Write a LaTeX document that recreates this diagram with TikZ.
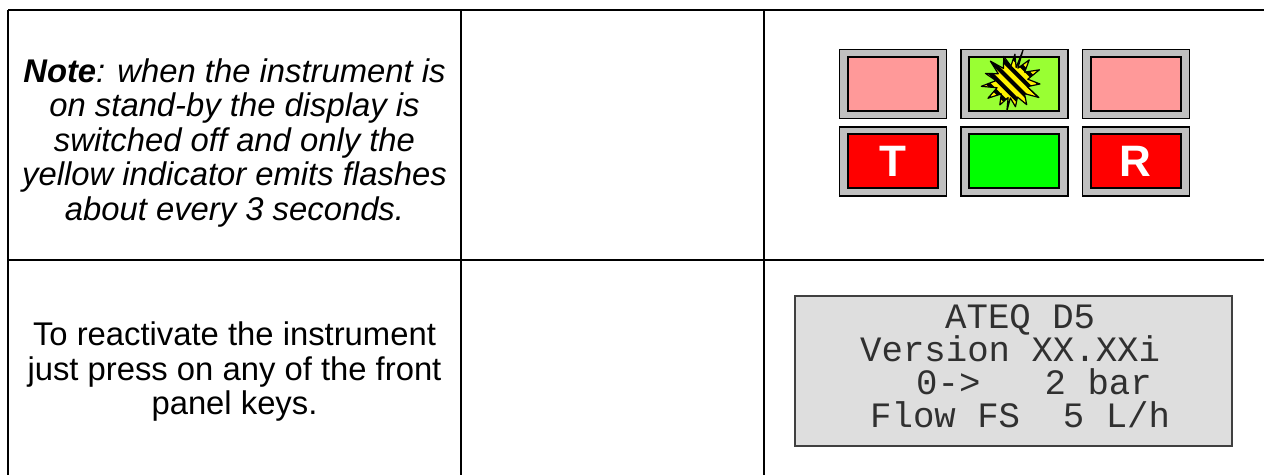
\documentclass[tikz,border=0pt]{standalone}
\usepackage{fontspec}
\setmainfont{Liberation Sans}
\newfontfamily\lcdfont{Liberation Mono}
\usetikzlibrary{positioning}

\definecolor{lampgray}{HTML}{C0C0C0}
\definecolor{pinkoff}{HTML}{FF9999}
\definecolor{limeon}{HTML}{99FF33}
\definecolor{redon}{HTML}{FF0000}
\definecolor{greenon}{HTML}{00FF00}
\definecolor{lcdbg}{HTML}{DEDEDE}
\definecolor{lcdedge}{HTML}{404040}
\definecolor{lcdtext}{HTML}{303030}

\begin{document}
\begin{tikzpicture}[x=1pt, y=-1pt,
  node distance=7pt and 13pt,
  grid/.style={line width=2.2pt},
  lamp/.style={draw, line width=1.4pt, fill=lampgray, minimum width=107pt,
               minimum height=69pt, inner sep=0pt},
  lens/.style={draw, line width=2pt, minimum width=90pt, minimum height=54pt,
               inner sep=0pt, text=white, font=\fontsize{44}{44}\selectfont\bfseries},
  note/.style={align=center, inner sep=0pt, font=\fontsize{32.8}{34.5}\selectfont},
  lcd/.style={draw=lcdedge, line width=2.5pt, fill=lcdbg, minimum width=437pt,
              minimum height=150pt, inner sep=0pt},
  lcdline/.style={anchor=base west, inner sep=0pt, text=lcdtext, text height=24pt,
                  text depth=4pt, font=\lcdfont\fontsize{35.7}{35.7}\selectfont}]
\useasboundingbox (0,0) rectangle (1264,475);

% table rules
\draw[grid] (8,10) -- (1264,10);
\draw[grid] (8,260) -- (1264,260);
\foreach \colx in {8,461,764}
  \draw[grid] (\colx,10) -- (\colx,475);

% explanation texts
\node[note, font=\fontsize{32.8}{34.5}\selectfont\itshape] (standby) at (234.5,143)
  {\textbf{Note}: when the instrument is\\on stand-by the display is\\
   switched off and only the\\yellow indicator emits flashes\\about every 3 seconds.};
\node[note] (wakeup) at (234.5,372)
  {To reactivate the instrument\\just press on any of the front\\panel keys.};

% front panel indicators
\node[lamp] (lampTL) at (893,84) {};
\node[lamp, right=of lampTL] (lampTM) {};
\node[lamp, right=of lampTM] (lampTR) {};
\node[lamp, below=of lampTL] (lampBL) {};
\node[lamp, right=of lampBL] (lampBM) {};
\node[lamp, right=of lampBM] (lampBR) {};
\node[lens, fill=pinkoff] (lensTL) at (lampTL) {};
\node[lens, fill=limeon] (lensTM) at (lampTM) {};
\node[lens, fill=pinkoff] (lensTR) at (lampTR) {};
\node[lens, fill=redon] (lensBL) at (lampBL) {T};
\node[lens, fill=greenon] (lensBM) at (lampBM) {};
\node[lens, fill=redon] (lensBR) at (lampBR) {R};

% flashing yellow indicator
\coordinate (burst) at (1012,82);
\begin{scope}[shift={(burst)}]
  \def\burstpath{(-74:15) -- (-71:34) -- (-67:15) -- (-52:28) -- (-38:16) -- (-24:30)
    -- (-10:16) -- (4:28) -- (17:16) -- (30:31) -- (43:17) -- (57:27) -- (70:16)
    -- (82:25) -- (96:16) -- (100:30) -- (104:16) -- (118:26) -- (132:16) -- (146:29)
    -- (159:16) -- (172:31) -- (185:16) -- (198:28) -- (211:16) -- (224:30)
    -- (238:16) -- (252:27) -- (266:16) -- (276:28) -- cycle}
  \begin{scope}
    \clip \burstpath;
    \fill[yellow] (-40,-40) rectangle (40,40);
    \begin{scope}[rotate=45]
      \foreach \k in {-45,-36,...,45}
        \draw[line width=4pt] (\k,-50) -- (\k,50);
    \end{scope}
  \end{scope}
  \draw[line width=1.2pt, line join=round] \burstpath;
\end{scope}

% display
\node[lcd] (screen) at (1013.5,371) {};
\node[lcdline] (lcdA) at (945,328) {ATEQ D5};
\node[lcdline] (lcdB) at (860,361) {Version XX.XXi};
\node[lcdline] (lcdC) at (916,394) {0->~~~2 bar};
\node[lcdline] (lcdD) at (870,427) {Flow FS~~5 L/h};
\end{tikzpicture}
\end{document}
